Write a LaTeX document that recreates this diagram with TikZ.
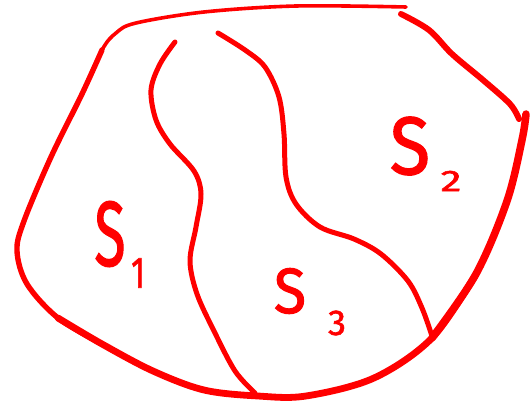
\documentclass[tikz,border=0pt]{standalone}
\usepackage{fontspec}
\setmainfont{Fira Sans}
\newfontfamily\lblfont[FakeBold=1.6]{Fira Sans}
\begin{document}
\begin{tikzpicture}[x=1pt,y=-1pt,
  pen/.style={draw=red,line cap=round,line join=round},
  lbl/.style={text=red,inner sep=0pt},
  sub/.style={text=red,inner sep=0pt}]
\useasboundingbox (0,0) rectangle (532,401);
% outer boundary
\draw[pen,line width=3.6pt] plot[smooth,tension=0.55] coordinates {(406,7) (296,6) (204,12) (136,23) (116,33) (102,50) (82,94)};
\draw[pen,line width=5.4pt] plot[smooth,tension=0.55] coordinates {(102,50) (82,94) (51,157) (24,221) (17,251) (27,284) (58,318) (102,344)};
\draw[pen,line width=6.8pt] plot[smooth,tension=0.55] coordinates {(58,318) (102,344) (153,371) (204,390) (258,396) (306,396) (374,378) (432,338) (476,274)};
\draw[pen,line width=7.5pt] plot[smooth,tension=0.55] coordinates {(432,338) (476,274) (507,201) (522,140) (526,114)};
\draw[pen,line width=6pt] plot[smooth,tension=0.55] coordinates {(401,14) (429,30) (452,54) (483,80) (510,104) (519,119)};
% inner boundaries
\draw[pen,line width=5pt] plot[smooth,tension=0.55] coordinates {(175,42) (160,64) (151,90) (156,120) (170,144) (194,171) (201,194) (196,227) (190,261) (197,294) (214,331) (235,371) (255,393)};
\draw[pen,line width=5pt] plot[smooth,tension=0.55] coordinates {(218,33) (245,50) (265,67) (279,97) (284,134) (286,177) (296,204) (320,227) (354,239) (381,254) (408,281) (422,308) (432,336)};
% labels
\node[lbl,font=\fontsize{92}{92}\selectfont\lblfont,xscale=0.62] (s1) at (110,234) {S};
\node[sub,font=\fontsize{44}{44}\selectfont\lblfont,xscale=0.7] (n1) at (138,273) {1};
\node[lbl,font=\fontsize{82}{82}\selectfont\lblfont,xscale=0.9] (s2) at (410,146) {S};
\node[sub,font=\fontsize{30}{30}\selectfont\lblfont,xscale=1.4] (n2) at (451,181) {2};
\node[lbl,font=\fontsize{64}{64}\selectfont\lblfont,xscale=0.92] (s3) at (290,291) {S};
\node[sub,font=\fontsize{36}{36}\selectfont\lblfont] (n3) at (337,323) {3};
\end{tikzpicture}
\end{document}
